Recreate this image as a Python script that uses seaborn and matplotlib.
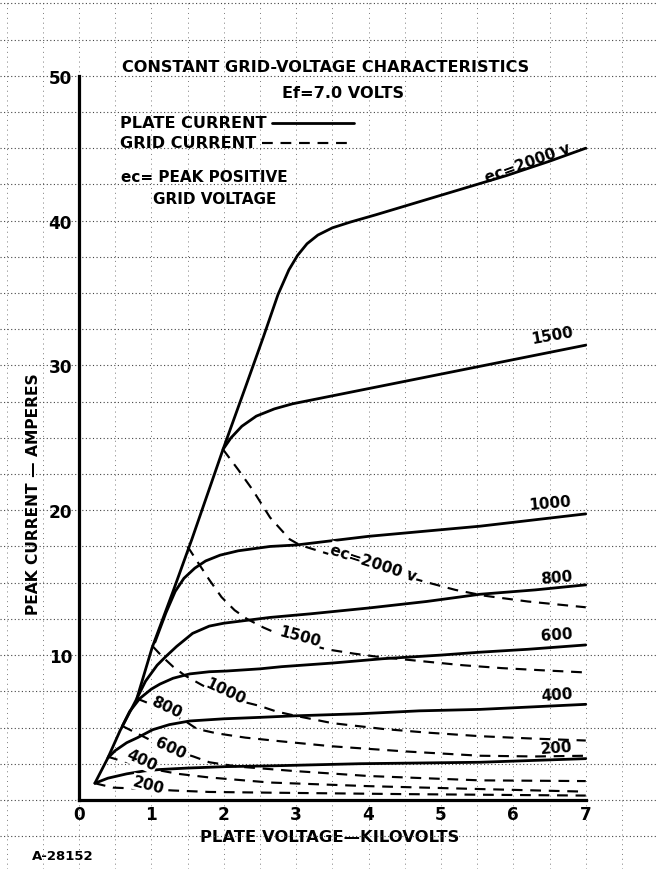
import matplotlib
matplotlib.use('Agg')
import matplotlib.pyplot as plt
from matplotlib.lines import Line2D
from matplotlib.ticker import MultipleLocator
import seaborn as sns

# ---------------- data (plate voltage kV, peak current A) ----------------
# plate current (solid)
p2000_kv = [0.22, 0.40, 0.57, 0.80, 1.01, 1.30, 1.56, 1.99, 2.30, 2.55, 2.75, 2.90, 3.02, 3.15, 3.30, 3.50, 3.75, 4.10, 4.70, 5.30, 5.90, 6.50, 7.00]
p2000_a = [1.15, 2.9, 4.8, 7.0, 10.5, 14.4, 18.0, 24.2, 28.5, 32.0, 34.9, 36.6, 37.6, 38.4, 39.0, 39.5, 39.9, 40.4, 41.3, 42.2, 43.1, 44.1, 45.0]
p1500_kv = [1.99, 2.10, 2.25, 2.45, 2.70, 2.95, 3.30, 3.80, 4.70, 5.80, 7.00]
p1500_a = [24.2, 25.0, 25.8, 26.5, 27.0, 27.35, 27.7, 28.2, 29.1, 30.2, 31.4]
p1000_kv = [1.05, 1.20, 1.33, 1.45, 1.60, 1.75, 1.95, 2.20, 2.64, 3.00, 4.00, 5.54, 7.00]
p1000_a = [10.9, 12.9, 14.4, 15.3, 16.0, 16.5, 16.9, 17.2, 17.5, 17.6, 18.2, 18.9, 19.75]
p800_kv = [0.80, 0.92, 1.08, 1.20, 1.35, 1.57, 1.80, 2.00, 2.32, 2.64, 3.20, 4.00, 4.80, 5.54, 6.30, 7.00]
p800_a = [7.0, 8.2, 9.3, 9.9, 10.6, 11.5, 12.0, 12.2, 12.4, 12.6, 12.85, 13.25, 13.7, 14.2, 14.5, 14.85]
p600_kv = [0.60, 0.70, 0.84, 1.00, 1.12, 1.30, 1.53, 1.80, 2.04, 2.50, 2.80, 3.50, 4.20, 5.00, 5.54, 6.20, 7.00]
p600_a = [5.1, 6.1, 7.0, 7.65, 8.0, 8.4, 8.7, 8.85, 8.9, 9.05, 9.2, 9.45, 9.75, 10.0, 10.2, 10.4, 10.7]
p400_kv = [0.40, 0.50, 0.66, 0.81, 1.02, 1.25, 1.53, 2.00, 2.50, 2.95, 3.88, 4.70, 5.54, 7.00]
p400_a = [2.9, 3.4, 3.95, 4.3, 4.85, 5.2, 5.45, 5.6, 5.7, 5.8, 5.95, 6.15, 6.25, 6.6]
p200_kv = [0.22, 0.40, 0.66, 0.90, 1.12, 1.50, 2.04, 2.64, 3.88, 5.54, 7.00]
p200_a = [1.15, 1.5, 1.8, 2.0, 2.1, 2.2, 2.3, 2.35, 2.5, 2.6, 2.85]

# grid current (dashed)
g2000_kv = [1.99, 2.20, 2.40, 2.64, 2.91, 3.05, 3.50, 4.00, 4.40, 4.75, 5.20, 5.60, 6.20, 7.00]
g2000_a = [24.2, 22.8, 21.4, 19.5, 18.0, 17.6, 16.9, 16.2, 15.6, 15.1, 14.5, 14.1, 13.7, 13.3]
g1500_kv = [1.50, 1.63, 1.80, 1.97, 2.15, 2.32, 2.55, 2.78, 3.05, 3.42, 3.80, 4.10, 4.69, 5.30, 5.84, 6.40, 7.00]
g1500_a = [17.5, 16.5, 15.2, 14.0, 13.1, 12.5, 11.9, 11.4, 10.9, 10.4, 10.1, 9.9, 9.6, 9.3, 9.1, 8.95, 8.8]
g1000_kv = [1.02, 1.15, 1.30, 1.46, 1.71, 2.00, 2.25, 2.49, 2.73, 3.00, 3.50, 4.20, 4.80, 5.54, 6.20, 7.00]
g1000_a = [10.6, 9.9, 9.2, 8.6, 7.9, 7.2, 6.8, 6.5, 6.1, 5.8, 5.3, 4.9, 4.65, 4.4, 4.25, 4.1]
g800_kv = [0.80, 1.00, 1.20, 1.45, 1.63, 1.90, 2.30, 2.78, 3.50, 4.50, 5.54, 6.30, 7.00]
g800_a = [7.0, 6.6, 6.1, 5.5, 4.9, 4.6, 4.3, 4.05, 3.7, 3.35, 3.05, 3.0, 3.05]
g600_kv = [0.60, 0.80, 1.00, 1.26, 1.58, 1.80, 2.20, 2.96, 4.00, 5.54, 7.00]
g600_a = [5.1, 4.6, 4.1, 3.5, 3.0, 2.6, 2.3, 2.0, 1.65, 1.35, 1.3]
g400_kv = [0.39, 0.55, 0.86, 1.10, 1.37, 1.80, 2.64, 4.00, 5.54, 7.00]
g400_a = [3.0, 2.75, 2.4, 2.05, 1.8, 1.55, 1.2, 0.95, 0.75, 0.57]
g200_kv = [0.22, 0.47, 0.96, 1.30, 1.80, 2.64, 4.50, 7.00]
g200_a = [1.15, 0.85, 0.75, 0.65, 0.55, 0.5, 0.4, 0.3]

plate_curves = [(p2000_kv, p2000_a), (p1500_kv, p1500_a), (p1000_kv, p1000_a),
                (p800_kv, p800_a), (p600_kv, p600_a), (p400_kv, p400_a), (p200_kv, p200_a)]
grid_curves = [(g2000_kv, g2000_a), (g1500_kv, g1500_a), (g1000_kv, g1000_a),
               (g800_kv, g800_a), (g600_kv, g600_a), (g400_kv, g400_a), (g200_kv, g200_a)]

plate_labels = ["ec=2000 v", "1500", "1000", "800", "600", "400", "200"]
grid_labels = ["ec=2000 v", "1500", "1000", "800", "600", "400", "200"]
x_ticks = [0, 1, 2, 3, 4, 5, 6, 7]
y_ticks = [10, 20, 30, 40, 50]

# ---------------- style ----------------
sns.set_theme(style='white')
plt.rcParams['font.family'] = ['DejaVu Sans']
plt.rcParams['font.weight'] = 'bold'
for k in ['text.color', 'axes.labelcolor', 'xtick.color', 'ytick.color']:
    plt.rcParams[k] = 'black'

fig = plt.figure(figsize=(6.56, 8.70), dpi=100)
ax = fig.add_axes([0, 0, 1, 1])
ax.set_xlim(-1.09, 7.97)
ax.set_ylim(-4.77, 55.3)

DASH = (0, (5.0, 3.6))

for kv, a in plate_curves:
    sns.lineplot(x=kv, y=a, ax=ax, color='black', lw=2.0, estimator=None, sort=False, zorder=3)
for kv, a in grid_curves:
    sns.lineplot(x=kv, y=a, ax=ax, color='black', lw=1.55, linestyle=DASH,
                 estimator=None, sort=False, zorder=3)

# spines
for s in ['top', 'right']:
    ax.spines[s].set_visible(False)
ax.spines['left'].set_position(('data', 0))
ax.spines['bottom'].set_position(('data', 0))
ax.spines['left'].set_bounds(0, 50)
ax.spines['bottom'].set_bounds(0, 7)
for s in ['left', 'bottom']:
    ax.spines[s].set_linewidth(2.3)
    ax.spines[s].set_color('black')
    ax.spines[s].set_zorder(4)

ax.set_xticks(x_ticks)
ax.set_xticklabels([str(t) for t in x_ticks], fontweight='bold')
ax.set_yticks(y_ticks)
ax.set_yticklabels([str(t) for t in y_ticks], fontweight='bold')
ax.xaxis.set_minor_locator(MultipleLocator(0.5))
ax.yaxis.set_minor_locator(MultipleLocator(2.5))
ax.tick_params(which='both', length=0)
ax.tick_params(axis='x', labelsize=12.2, pad=3.5)
ax.tick_params(axis='y', labelsize=12.2, pad=5)

ax.grid(which='both', axis='y', color='#444444', lw=0.8, ls=(0, (1, 2.2)))
ax.grid(which='both', axis='x', color='#7a7a7a', lw=0.7, ls=(0, (1, 4)))
ax.set_axisbelow(True)

ax.set_xlabel('PLATE VOLTAGE—KILOVOLTS', fontsize=11.8, fontweight='bold')
ax.xaxis.set_label_coords(330 / 656, 1 - 830 / 870)
ax.set_ylabel('PEAK CURRENT — AMPERES', fontsize=11.2, fontweight='bold')
ax.yaxis.set_label_coords(41 / 656, 1 - 494 / 870)

# titles / notes
T = ax.transAxes
ax.text(326 / 656, 1 - 68 / 870, 'CONSTANT GRID-VOLTAGE CHARACTERISTICS', transform=T,
        ha='center', va='center', fontsize=11.6)
ax.text(343 / 656, 1 - 94 / 870, 'Ef=7.0 VOLTS', transform=T,
        ha='center', va='center', fontsize=11.6)
ax.text(120 / 656, 1 - 124 / 870, 'PLATE CURRENT', transform=T,
        ha='left', va='center', fontsize=11.6)
ax.text(120 / 656, 1 - 144 / 870, 'GRID CURRENT', transform=T,
        ha='left', va='center', fontsize=11.6)
ax.text(121 / 656, 1 - 178 / 870, 'ec= PEAK POSITIVE', transform=T,
        ha='left', va='center', fontsize=11)
ax.text(153 / 656, 1 - 199 / 870, 'GRID VOLTAGE', transform=T,
        ha='left', va='center', fontsize=11)
ax.text(32 / 656, 1 - 857 / 870, 'A-28152', transform=T,
        ha='left', va='center', fontsize=9.5)

# legend samples
ax.add_line(Line2D([272 / 656, 354 / 656], [1 - 124 / 870, 1 - 124 / 870], transform=T,
                   color='black', lw=2.0))
ax.add_line(Line2D([262 / 656, 354 / 656], [1 - 144 / 870, 1 - 144 / 870], transform=T,
                   color='black', lw=1.55, linestyle=DASH))

# curve labels - plate (at right ends)
plate_label_pos = [(6.2, 44.0, 20), (6.54, 32.1, 10), (6.5, 20.5, 5), (6.6, 15.35, 5),
                   (6.6, 11.45, 4), (6.6, 7.3, 4), (6.6, 3.6, 4)]
for lab, (x, y, r) in zip(plate_labels, plate_label_pos):
    ax.text(x, y, lab, ha='center', va='center', rotation=r, fontsize=11, zorder=5)

# curve labels - grid (inline on dashed curves)
grid_label_pos = [(4.07, 16.4, -18), (3.05, 11.3, -15), (2.03, 7.5, -25), (1.21, 6.45, -25),
                  (1.26, 3.6, -25), (0.86, 2.75, -25), (0.96, 1.05, -15)]
for lab, (x, y, r) in zip(grid_labels, grid_label_pos):
    ax.text(x, y, lab, ha='center', va='center', rotation=r, fontsize=11, zorder=5,
            bbox=dict(facecolor='white', edgecolor='none', pad=0.5))

fig.savefig('out.png', dpi=100, facecolor='white')
